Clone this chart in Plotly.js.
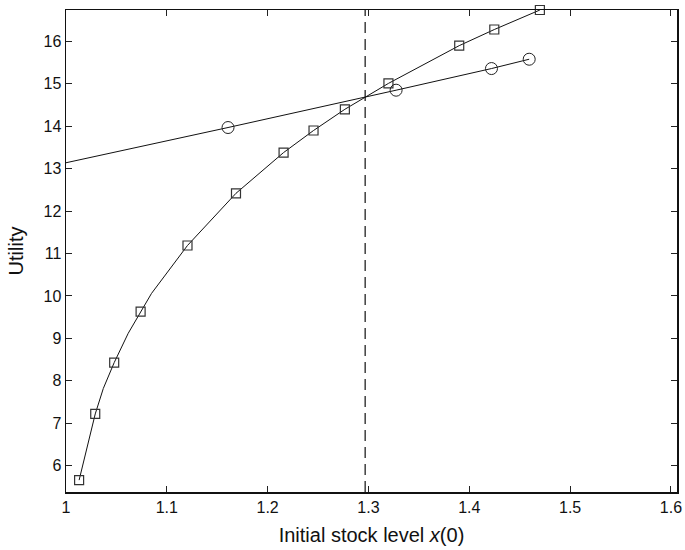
<!DOCTYPE html>
<html>
<head>
<meta charset="utf-8">
<script src="https://cdn.plot.ly/plotly-3.0.1.min.js"></script>
<style>html,body{margin:0;padding:0;background:#fff;}</style>
</head>
<body>
<div id="chart" style="width:685px;height:550px;"></div>
<script>
// Squares series: marker points
const squareX = [1.013, 1.029, 1.0478, 1.074, 1.1205, 1.1686, 1.2158, 1.2455, 1.2766, 1.3198, 1.390, 1.4248, 1.470];
const squareY = [5.66, 7.22, 8.43, 9.63, 11.19, 12.42, 13.38, 13.90, 14.40, 15.01, 15.90, 16.28, 16.74];
// Squares series: drawn curve (includes unmarked vertices)
const squareLineX = [1.013, 1.029, 1.037, 1.0478, 1.0617, 1.074, 1.0848, 1.1205, 1.1686, 1.2158, 1.2455, 1.2766, 1.3198, 1.390, 1.4248, 1.470];
const squareLineY = [5.66, 7.22, 7.82, 8.43, 9.12, 9.63, 10.06, 11.19, 12.42, 13.38, 13.90, 14.40, 15.01, 15.90, 16.28, 16.74];
// Circles series
const circleX = [1.1607, 1.3274, 1.422, 1.4594];
const circleY = [13.97, 14.85, 15.36, 15.58];
const circleLineX = [1.0, 1.1607, 1.3274, 1.422, 1.4594];
const circleLineY = [13.14, 13.97, 14.85, 15.36, 15.58];
// Vertical dashed reference
const refX = 1.2967;
// Axes
const xRange = [1, 1.606];
const yRange = [5.38, 16.74];
const xTicks = [1, 1.1, 1.2, 1.3, 1.4, 1.5, 1.6];
const xTickText = ['1', '1.1', '1.2', '1.3', '1.4', '1.5', '1.6'];
const yTicks = [6, 7, 8, 9, 10, 11, 12, 13, 14, 15, 16];

const FONT = '"Liberation Sans", Arial, Helvetica, sans-serif';

const traces = [
  {x: squareLineX, y: squareLineY, mode: 'lines', line: {color: '#111', width: 1}, hoverinfo: 'skip', showlegend: false},
  {x: circleLineX, y: circleLineY, mode: 'lines', line: {color: '#111', width: 1}, hoverinfo: 'skip', showlegend: false},
  {x: squareX, y: squareY, mode: 'markers', cliponaxis: false,
   marker: {symbol: 'square-open', size: 9, color: '#333', line: {width: 1.2, color: '#333'}}, showlegend: false},
  {x: circleX, y: circleY, mode: 'markers', cliponaxis: false,
   marker: {symbol: 'circle-open', size: 12, color: '#222', line: {width: 1, color: '#222'}}, showlegend: false}
];

const axisCommon = {
  showgrid: false, zeroline: false, showline: true, mirror: 'ticks',
  linecolor: '#111', linewidth: 1.5, ticks: 'inside', ticklen: 6, tickwidth: 1, tickcolor: '#222',
  tickfont: {family: FONT, size: 16, color: '#111'}
};

const layout = {
  width: 685, height: 550,
  margin: {l: 66, r: 8, t: 10, b: 58},
  paper_bgcolor: '#fff', plot_bgcolor: '#fff',
  showlegend: false,
  font: {family: FONT, color: '#111'},
  xaxis: Object.assign({}, axisCommon, {
    range: xRange, tickvals: xTicks, ticktext: xTickText,
    title: {text: 'Initial stock level <i>x</i>(0)', font: {family: FONT, size: 20, color: '#111'}, standoff: 13}
  }),
  yaxis: Object.assign({}, axisCommon, {
    range: yRange, tickvals: yTicks,
    title: {text: 'Utility', font: {family: FONT, size: 20, color: '#111'}, standoff: 14}
  }),
  shapes: [{type: 'line', xref: 'x', yref: 'y', x0: refX, x1: refX, y0: yRange[0], y1: yRange[1],
            line: {color: '#111', width: 1.2, dash: '11px,6px'}}]
};

Plotly.newPlot('chart', traces, layout, {staticPlot: true, displayModeBar: false});
</script>
</body>
</html>
